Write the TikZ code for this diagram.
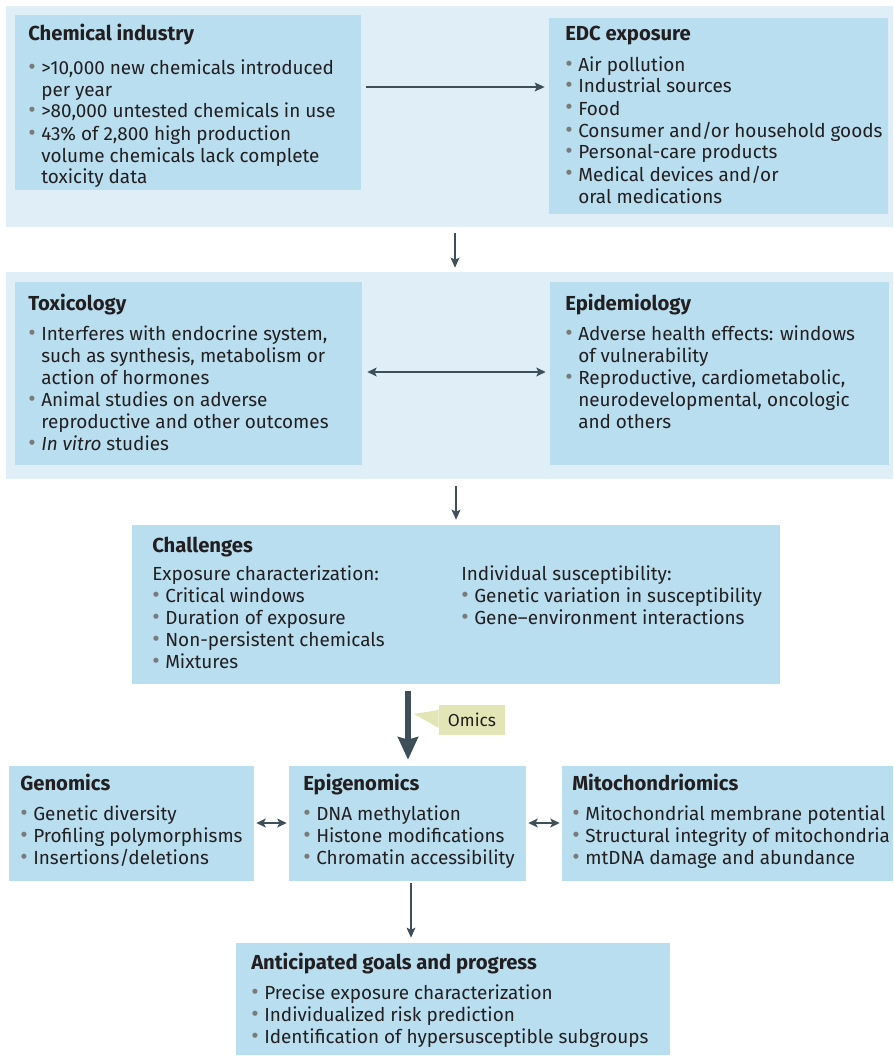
\documentclass[tikz,border=0pt]{standalone}
\usepackage{fontspec}
\setmainfont{Fira Sans}
\usetikzlibrary{arrows.meta,fit,calc}
\definecolor{panelbg}{HTML}{E0EFF7}
\definecolor{boxbg}{HTML}{B8DEF0}
\definecolor{arrowc}{HTML}{3E4F5A}
\definecolor{omicsbg}{HTML}{E2E5B6}
\definecolor{txtc}{HTML}{231F20}
\definecolor{bulc}{HTML}{7A7A7A}
\newcommand{\bl}{\makebox[9.75pt][l]{\textcolor{bulc}{\scalebox{1.2}{•}}}}
\newcommand{\ind}{\hspace*{9.75pt}}
\newcommand{\ttl}[1]{{\fontsize{15.2}{16.5}\selectfont\bfseries #1}}
\newcommand{\blk}[1]{\parbox[t]{400pt}{\raggedright #1}}
\tikzset{
  panel/.style={fill=panelbg, inner sep=0pt, draw=none},
  box/.style={fill=boxbg, inner sep=0pt, draw=none},
  txt/.style={anchor=base west, inner sep=0pt, text=txtc, font=\fontsize{14.2}{16.5}\selectfont},
  arr/.style={draw=arrowc, line width=1.5pt, -{Stealth[length=7.5pt,width=6.5pt,inset=1.5pt]}},
  darr/.style={draw=arrowc, line width=1.5pt, {Stealth[length=7pt,width=6.5pt,inset=1.5pt]}-{Stealth[length=7pt,width=6.5pt,inset=1.5pt]}},
  bigarr/.style={draw=arrowc, line width=4.5pt, -{Stealth[length=17pt,width=15pt,inset=2pt]}},
  omicsbox/.style={fill=omicsbg, inner sep=0pt, draw=none, minimum width=49.5pt, minimum height=22.5pt, text=txtc, font=\fontsize{13}{16.5}\selectfont}
}
\begin{document}
\begin{tikzpicture}[x=0.75pt,y=-0.75pt]
\useasboundingbox[fill=white] (0,0) rectangle (893,1056);
% panels
\node[panel, fit={(6,6) (893,227)}] (p1) {};
\node[panel, fit={(6,272) (893,479)}] (p2) {};
% boxes
\node[box, fit={(15,15) (361,190)}] (chem) {};
\node[box, fit={(549,18) (888,214)}] (edc) {};
\node[box, fit={(15,282) (362,465)}] (tox) {};
\node[box, fit={(550,282) (889,465)}] (epi) {};
\node[box, fit={(132,525) (780,684)}] (chal) {};
\node[box, fit={(9,766) (254,881)}] (gen) {};
\node[box, fit={(289,766) (526,881)}] (epig) {};
\node[box, fit={(562,766) (893,881)}] (mito) {};
\node[box, fit={(236,943) (670,1055)}] (goal) {};
% texts
\node[txt] (chemt) at (28,41) {\blk{\ttl{Chemical industry}\\[8.25pt]
\bl>10,000 new chemicals introduced\\
\ind per year\\
\bl>80,000 untested chemicals in use\\
\bl 43\% of 2,800 high production\\
\ind volume chemicals lack complete\\
\ind toxicity data}};
\node[txt] (edct) at (565,41) {\blk{\ttl{EDC exposure}\\[6pt]
\bl Air pollution\\
\bl Industrial sources\\
\bl Food\\
\bl Consumer and/or household goods\\
\bl Personal-care products\\
\bl Medical devices and/or\\
\ind oral medications}};
\node[txt] (toxt) at (28,310) {\blk{\ttl{Toxicology}\\[6pt]
\bl Interferes with endocrine system,\\
\ind such as synthesis, metabolism or\\
\ind action of hormones\\
\bl Animal studies on adverse\\
\ind reproductive and other outcomes\\
\bl \textit{In vitro} studies}};
\node[txt] (epit) at (565,310) {\blk{\ttl{Epidemiology}\\[6pt]
\bl Adverse health effects: windows\\
\ind of vulnerability\\
\bl Reproductive, cardiometabolic,\\
\ind neurodevelopmental, oncologic\\
\ind and others}};
\node[txt] (chalt) at (152,552) {\blk{\ttl{Challenges}\\[4.5pt]
Exposure characterization:\\
\bl Critical windows\\
\bl Duration of exposure\\
\bl Non-persistent chemicals\\
\bl Mixtures}};
\node[txt] (chalt2) at (461,580) {\blk{Individual susceptibility:\\
\bl Genetic variation in susceptibility\\
\bl Gene--environment interactions}};
\node[txt] (gent) at (20,790) {\blk{\ttl{Genomics}\\[6pt]
\bl Genetic diversity\\
\bl Profiling polymorphisms\\
\bl Insertions/deletions}};
\node[txt] (epigt) at (303,790) {\blk{\ttl{Epigenomics}\\[6pt]
\bl DNA methylation\\
\bl Histone modifications\\
\bl Chromatin accessibility}};
\node[txt] (mitot) at (572,790) {\blk{\ttl{Mitochondriomics}\\[6pt]
\bl Mitochondrial membrane potential\\
\bl Structural integrity of mitochondria\\
\bl mtDNA damage and abundance}};
\node[txt] (goalt) at (251,969) {\blk{\ttl{Anticipated goals and progress}\\[6pt]
\bl Precise exposure characterization\\
\bl Individualized risk prediction\\
\bl Identification of hypersusceptible subgroups}};
% omics callout
\node[omicsbox] (omics) at (472,720) {Omics};
\fill[omicsbg] (414,714) -- (omics.west |- 0,710) -- (omics.west |- 0,728) -- cycle;
% connectors
\coordinate (yA) at (0,87);
\coordinate (yB) at (0,372);
\coordinate (yC) at (0,823);
\coordinate (xA) at (455,0);
\coordinate (xB) at (456,0);
\coordinate (xC) at (408,0);
\coordinate (xD) at (411,0);
\draw[arr, shorten <=3.75pt, shorten >=3pt] (chem.east |- yA) -- (edc.west |- yA);
\draw[arr, shorten <=4.5pt, shorten >=3pt] (p1.south -| xA) -- (p2.north -| xA);
\draw[darr, shorten <=3.75pt, shorten >=3pt] (tox.east |- yB) -- (epi.west |- yB);
\draw[arr, shorten <=5pt, shorten >=3.75pt] (p2.south -| xB) -- (chal.north -| xB);
\draw[bigarr, shorten <=5pt, shorten >=4.5pt] (chal.south -| xC) -- (epig.north -| xC);
\draw[darr, shorten <=1.5pt, shorten >=1.5pt] (gen.east |- yC) -- (epig.west |- yC);
\draw[darr, shorten <=1.5pt, shorten >=1.5pt] (epig.east |- yC) -- (mito.west |- yC);
\draw[arr, shorten <=1.5pt, shorten >=3.75pt] (epig.south -| xD) -- (goal.north -| xD);
\end{tikzpicture}
\end{document}
